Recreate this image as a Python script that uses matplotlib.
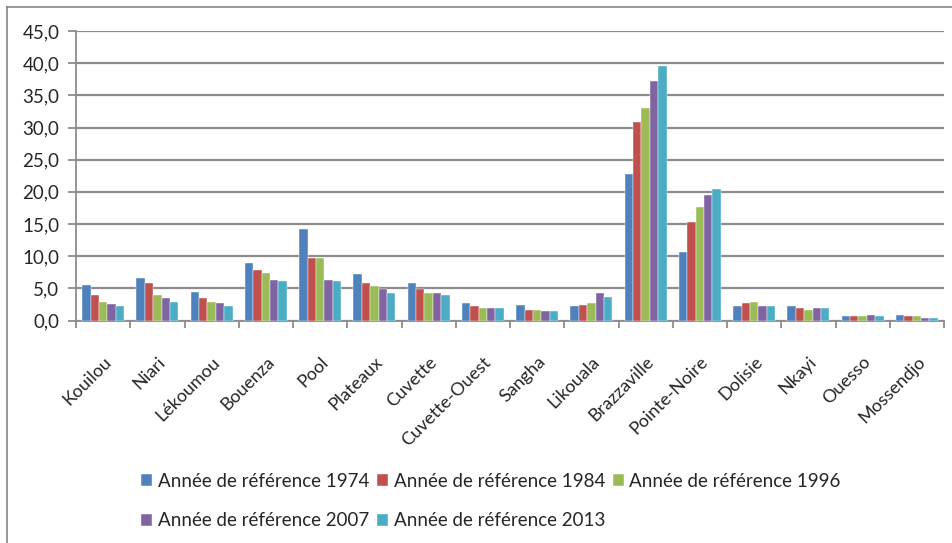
import matplotlib
matplotlib.use("Agg")
import matplotlib.pyplot as plt
import numpy as np
from matplotlib.lines import Line2D
from matplotlib.ticker import FuncFormatter, FixedLocator

plt.rcParams['font.family'] = ['Lato', 'DejaVu Sans']

# Répartition de la population (%) par département / commune
departements = ['Kouilou', 'Niari', 'Lékoumou', 'Bouenza', 'Pool', 'Plateaux',
                'Cuvette', 'Cuvette-Ouest', 'Sangha', 'Likouala', 'Brazzaville',
                'Pointe-Noire', 'Dolisie', 'Nkayi', 'Ouesso', 'Mossendjo']
series_labels = ['Année de référence 1974', 'Année de référence 1984',
                 'Année de référence 1996', 'Année de référence 2007',
                 'Année de référence 2013']
val_1974 = [5.5, 6.6, 4.5, 8.9, 14.3, 7.3, 5.8, 2.7, 2.4, 2.2, 22.7, 10.7, 2.2, 2.2, 0.7, 0.9]
val_1984 = [4.0, 5.8, 3.5, 7.9, 9.7, 5.8, 4.9, 2.2, 1.7, 2.4, 30.8, 15.3, 2.7, 1.9, 0.7, 0.7]
val_1996 = [2.9, 4.0, 2.9, 7.4, 9.7, 5.3, 4.2, 1.9, 1.7, 2.7, 33.1, 17.6, 2.9, 1.7, 0.7, 0.7]
val_2007 = [2.5, 3.5, 2.7, 6.3, 6.3, 4.9, 4.2, 1.9, 1.4, 4.2, 37.2, 19.5, 2.2, 1.9, 0.9, 0.4]
val_2013 = [2.2, 2.9, 2.2, 6.1, 6.1, 4.2, 4.0, 1.9, 1.4, 3.7, 39.5, 20.4, 2.2, 1.9, 0.7, 0.4]

colors = ['#4F81BD', '#C0504D', '#9BBB59', '#8064A2', '#4BACC6']
GRID = '#8C8C8C'
TXT = '#262626'

W, H = 952, 543
fig = plt.figure(figsize=(W / 100, H / 100), dpi=100)
fig.patch.set_facecolor('white')
ax = fig.add_axes([76 / W, 1 - 320.5 / H, (944 - 76) / W, (320.5 - 31) / H])

x = np.arange(len(departements))
bw = 0.155
all_vals = [val_1974, val_1984, val_1996, val_2007, val_2013]
bars = []
for i, (vals, col, lab) in enumerate(zip(all_vals, colors, series_labels)):
    b = ax.bar(x + (i - 2) * bw, vals, width=bw, color=col, label=lab,
               edgecolor='white', linewidth=0.3, zorder=3)
    bars.append(b)

ax.set_xlim(-0.5, len(departements) - 0.5)
ax.set_ylim(0, 45)
ax.set_yticks(np.arange(0, 46, 5))
ax.yaxis.set_major_formatter(FuncFormatter(lambda v, p: f'{v:.1f}'.replace('.', ',')))
ax.yaxis.grid(True, color=GRID, linewidth=1.6, zorder=0)
ax.set_axisbelow(True)

# category labels at centers, tick marks between categories
ax.set_xticks(x)
ax.set_xticklabels(departements, rotation=45, ha='right', rotation_mode='anchor')
ax.xaxis.set_minor_locator(FixedLocator(np.arange(-0.5, len(departements), 1)))
ax.tick_params(axis='x', which='major', length=0, pad=24, labelsize=13, labelcolor=TXT)
ax.tick_params(axis='x', which='minor', length=5, width=1.3, color=GRID)
ax.tick_params(axis='y', length=6, width=1.3, color=GRID, labelsize=13.5,
               labelcolor=TXT, pad=6)

for s in ['top', 'right']:
    ax.spines[s].set_visible(False)
for s in ['left', 'bottom']:
    ax.spines[s].set_color(GRID)
    ax.spines[s].set_linewidth(1.3)

# legend filled row by row: 1974 1984 1996 / 2007 2013
order = [0, 3, 1, 4, 2]
fig.legend([bars[k] for k in order], [series_labels[k] for k in order],
           loc='upper left', bbox_to_anchor=(141 / W, 1 - 473 / H), ncol=3,
           frameon=False, fontsize=13.5, handlelength=0.6, handleheight=0.6,
           handletextpad=0.3, columnspacing=0.4, labelspacing=1.2,
           labelcolor=TXT, borderaxespad=0, borderpad=0)

# outer chart border (top and left edges)
fig.add_artist(Line2D([7 / W, 1], [1 - 7 / H, 1 - 7 / H], color='#868686', lw=1.2))
fig.add_artist(Line2D([7 / W, 7 / W], [0, 1 - 7 / H], color='#868686', lw=1.2))

fig.savefig('out.png', dpi=100, facecolor='white')
